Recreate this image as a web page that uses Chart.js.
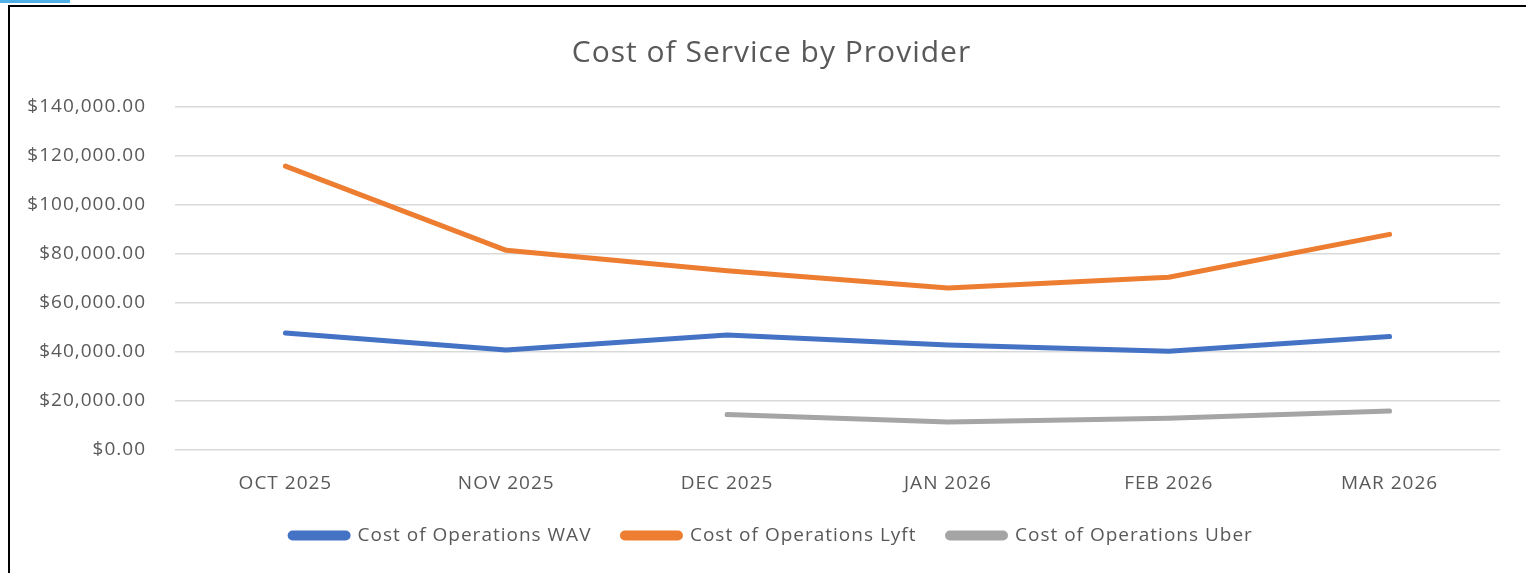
<!DOCTYPE html>
<html>
<head>
<meta charset="utf-8">
<script src="https://cdn.jsdelivr.net/npm/chart.js@4.4.1/dist/chart.umd.min.js"></script>
<style>
  html, body { margin: 0; padding: 0; background: #fff; overflow: hidden; }
  #wrap { position: absolute; left: 0; top: 0; width: 1526px; height: 573px; }
  #frame { position: absolute; left: 8px; top: 5px; width: 1540px; height: 600px; border: 2px solid #000; box-sizing: border-box; pointer-events: none; }
  #tab { position: absolute; left: 0; top: 0; width: 70px; height: 3px; background: #4fb0e8; }
</style>
</head>
<body>
<div id="wrap">
  <canvas id="chart" width="1526" height="573"></canvas>
  <div id="frame"></div>
  <div id="tab"></div>
</div>
<script>
// chart data
var months = ['OCT 2025', 'NOV 2025', 'DEC 2025', 'JAN 2026', 'FEB 2026', 'MAR 2026'];
var costWAV = [47800, 40800, 46900, 42900, 40300, 46300];
var costLyft = [115900, 81500, 73200, 66100, 70500, 88000];
var costUber = [null, null, 14500, 11400, 13000, 15900];

var font = "'Open Sans', 'Liberation Sans', sans-serif";
var grey = '#595959';

function series(label, data, color) {
    return {
        label: label, data: data,
        borderColor: color, backgroundColor: color,
        borderWidth: 5, pointRadius: 0, tension: 0,
        borderCapStyle: 'round', borderJoinStyle: 'round'
    };
}

// the office-style text is a little wider than Open Sans
var spacing = {
    id: 'spacing',
    beforeLayout: function (chart) { chart.ctx.letterSpacing = '1px'; },
    beforeDraw: function (chart) { chart.ctx.letterSpacing = '1px'; }
};

new Chart(document.getElementById('chart'), {
    type: 'line',
    plugins: [spacing],
    data: {
        labels: months,
        datasets: [
            series('Cost of Operations WAV', costWAV, '#4472C4'),
            series('Cost of Operations Lyft', costLyft, '#ED7D31'),
            series('Cost of Operations Uber', costUber, '#A5A5A5')
        ]
    },
    options: {
        responsive: false,
        animation: false,
        layout: { padding: { left: 43, right: 26, top: 0, bottom: 18 } },
        plugins: {
            title: {
                display: true, text: 'Cost of Service by Provider', color: grey,
                font: { family: font, size: 30, weight: 'normal' },
                padding: { top: 35, bottom: 36 }
            },
            legend: {
                position: 'bottom',
                labels: {
                    color: grey, boxWidth: 58, boxHeight: 5, padding: 31,
                    useBorderRadius: true, borderRadius: 2.5,
                    font: { family: font, size: 19 }
                }
            },
            tooltip: { enabled: false }
        },
        scales: {
            x: {
                offset: true,
                afterFit: function (s) { s.height = 45; },
                grid: { display: false, drawTicks: false },
                border: { display: false },
                ticks: { color: grey, padding: 22, maxRotation: 0, font: { family: font, size: 19 } }
            },
            y: {
                min: 0, max: 140000,
                afterFit: function (s) {
                    s.width = 132;
                    // labels stick out past the left padding, so don't clip them
                    s._computeLabelArea = function () {};
                },
                grid: { color: '#d9d9d9', lineWidth: 1.5, drawTicks: false },
                border: { display: false },
                ticks: {
                    stepSize: 20000, color: grey, padding: 29,
                    font: { family: font, size: 19 },
                    callback: function (v) {
                        return '$' + v.toLocaleString('en-US', { minimumFractionDigits: 2, maximumFractionDigits: 2 });
                    }
                }
            }
        }
    }
});
</script>
</body>
</html>
